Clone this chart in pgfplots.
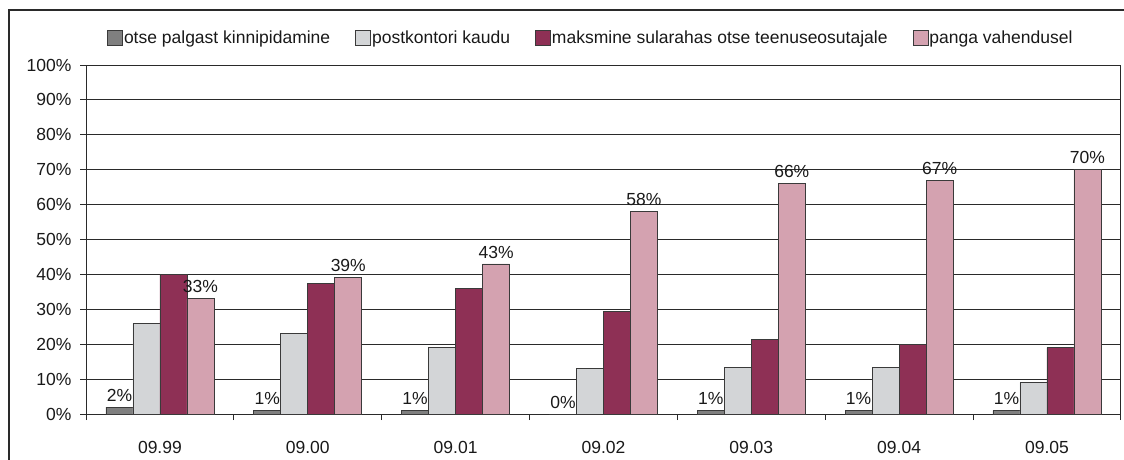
\documentclass[border=0pt]{standalone}
\usepackage{fontspec}
\setmainfont{Liberation Sans}
\usepackage{pgfplots}
\pgfplotsset{compat=1.18}

\definecolor{cDark}{HTML}{7F7F7F}
\definecolor{cLight}{HTML}{D3D5D7}
\definecolor{cMaroon}{HTML}{8E3055}
\definecolor{cPink}{HTML}{D4A2B0}
\definecolor{cEdge}{HTML}{3A3A3A}
\definecolor{cLine}{HTML}{2A2A2A}

\newcommand{\lblfont}{\fontsize{17.5}{20}\selectfont}

\pgfplotsset{
  sqlegend/.style={legend image code/.code={\draw[##1,line width=0.8pt] (0pt,-7.5pt) rectangle (15pt,7.5pt);}},
  lbl/.style={nodes near coords={\pgfmathprintnumber[assume math mode=true]{\pgfplotspointmeta}\%},
    every node near coord/.append style={font=\lblfont, text=black!90, yshift=2pt}},
}

\begin{document}
\begin{tikzpicture}
\path[use as bounding box] (0pt,-460pt) rectangle (1124pt,0pt);
\draw[line width=1.2pt, cLine] (9pt,-490pt) -- (9pt,-10pt) -- (1150pt,-10pt);
\begin{axis}[
  at={(86pt,-414pt)}, anchor=south west,
  scale only axis, width=1035pt, height=349pt,
  ybar=0pt, bar width=27pt,
  xmin=-0.5, xmax=6.5, ymin=0, ymax=100,
  xtick={-0.5,0.5,...,6.5}, x tick label as interval,
  xticklabels={09.99,09.00,09.01,09.02,09.03,09.04,09.05},
  ytick={0,10,...,100},
  yticklabel={\pgfmathprintnumber[assume math mode=true]{\tick}\%},
  ymajorgrids, grid style={line width=1pt, cLine},
  tick pos=left, tick align=outside, major tick length=6pt,
  tick style={line width=1pt, cLine},
  axis line style={line width=1pt, cLine},
  tick label style={font=\lblfont, text=black!90},
  xticklabel style={yshift=-18pt},
  yticklabel style={xshift=-5pt},
  legend columns=4,
  legend style={at={(0.0203,1.0774)}, anchor=west, draw=none, fill=none, inner sep=0pt,
    font=\lblfont, text=black!90,
    nodes={inner xsep=1pt},
    /tikz/every even column/.append style={column sep=24pt}},
]
\addplot[fill=cDark, draw=cEdge, line width=0.8pt, sqlegend, lbl] coordinates {(0,2) (1,1) (2,1) (3,0) (4,1) (5,1) (6,1)};
\addlegendentry{otse palgast kinnipidamine}
\addplot[fill=cLight, draw=cEdge, line width=0.8pt, sqlegend] coordinates {(0,26) (1,23) (2,19) (3,13) (4,13.3) (5,13.3) (6,9)};
\addlegendentry{postkontori kaudu}
\addplot[fill=cMaroon, draw=cEdge, line width=0.8pt, sqlegend] coordinates {(0,40) (1,37.3) (2,36) (3,29.3) (4,21.3) (5,20) (6,19)};
\addlegendentry{maksmine sularahas otse teenuseosutajale\hspace{18pt}}
\addplot[fill=cPink, draw=cEdge, line width=0.8pt, sqlegend, lbl] coordinates {(0,33) (1,39) (2,43) (3,58) (4,66) (5,67) (6,70)};
\addlegendentry{panga vahendusel}
\end{axis}
\end{tikzpicture}
\end{document}
